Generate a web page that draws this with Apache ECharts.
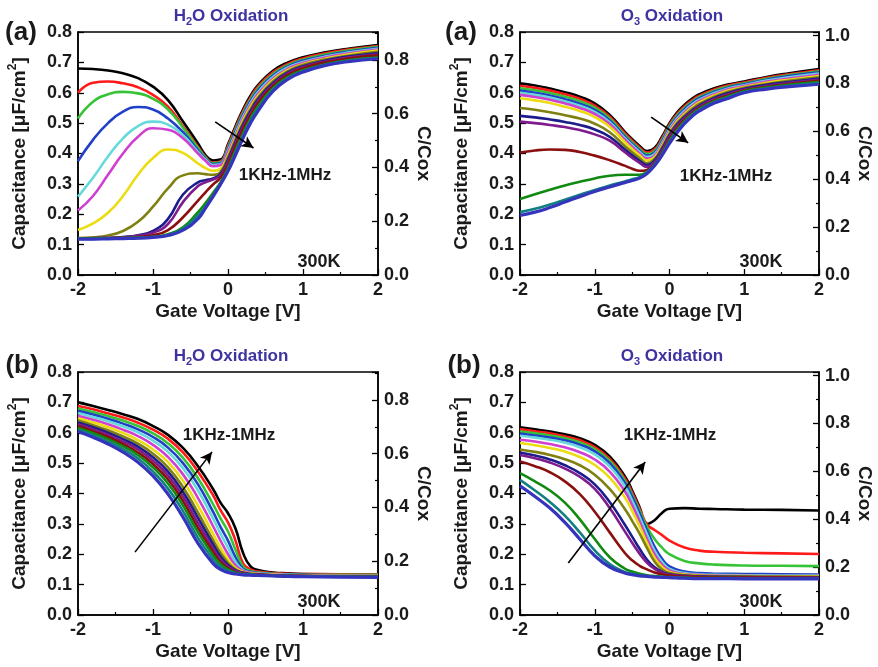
<!DOCTYPE html>
<html><head><meta charset="utf-8">
<script src="https://cdn.jsdelivr.net/npm/echarts@6/dist/echarts.min.js"></script>
<style>html,body{margin:0;padding:0;background:#fff}#c{width:878px;height:667px}</style>
</head><body><div id="c"></div>
<script>
const FONT = '"Liberation Sans", Arial, sans-serif';
// Frequency order 1KHz ... 1MHz (Origin default colour sequence)
const COLORS = ['#000000','#ff1a1a','#36c436','#2040c8','#66dada','#d040d0','#ecdc12','#808012','#1c1c8c','#7e1c8e','#8a1010','#108a10','#118080','#3434bc'];

// ---------- (a) H2O oxidation ----------
const X_A_H2O = [-2,-1.8,-1.6,-1.4,-1.2,-1,-0.8,-0.6,-0.4,-0.3,-0.2,-0.1,0,0.1,0.2,0.3,0.4,0.6,0.8,1,1.3,1.6,2];
const C_A_H2O = [
 [0.680,0.678,0.673,0.664,0.648,0.620,0.576,0.505,0.433,0.395,0.377,0.380,0.430,0.490,0.545,0.590,0.625,0.672,0.700,0.717,0.733,0.745,0.757],
 [0.600,0.633,0.637,0.631,0.618,0.593,0.554,0.490,0.422,0.389,0.370,0.374,0.425,0.484,0.539,0.584,0.620,0.667,0.695,0.713,0.730,0.742,0.754],
 [0.515,0.570,0.595,0.603,0.598,0.580,0.545,0.485,0.418,0.387,0.368,0.371,0.420,0.478,0.533,0.578,0.614,0.662,0.691,0.709,0.726,0.739,0.751],
 [0.375,0.445,0.500,0.538,0.553,0.545,0.515,0.470,0.410,0.383,0.365,0.368,0.415,0.472,0.527,0.572,0.608,0.657,0.687,0.705,0.722,0.735,0.748],
 [0.258,0.320,0.390,0.450,0.490,0.505,0.495,0.460,0.405,0.380,0.362,0.365,0.410,0.466,0.521,0.566,0.602,0.652,0.683,0.701,0.719,0.732,0.745],
 [0.212,0.260,0.330,0.400,0.455,0.483,0.478,0.450,0.400,0.376,0.358,0.362,0.405,0.460,0.515,0.560,0.596,0.647,0.679,0.698,0.716,0.729,0.742],
 [0.148,0.170,0.205,0.260,0.330,0.385,0.413,0.402,0.367,0.352,0.343,0.350,0.395,0.453,0.508,0.553,0.590,0.642,0.675,0.694,0.712,0.726,0.739],
 [0.122,0.124,0.130,0.145,0.175,0.225,0.285,0.328,0.335,0.332,0.330,0.340,0.388,0.446,0.501,0.546,0.584,0.637,0.671,0.691,0.709,0.722,0.735],
 [0.120,0.121,0.122,0.125,0.131,0.145,0.185,0.265,0.305,0.312,0.318,0.333,0.380,0.439,0.494,0.539,0.578,0.632,0.667,0.687,0.706,0.719,0.731],
 [0.120,0.121,0.122,0.124,0.129,0.139,0.168,0.240,0.293,0.305,0.314,0.328,0.373,0.432,0.487,0.532,0.572,0.627,0.663,0.684,0.703,0.716,0.727],
 [0.120,0.120,0.121,0.122,0.125,0.131,0.148,0.190,0.245,0.272,0.298,0.320,0.363,0.425,0.480,0.525,0.566,0.622,0.659,0.681,0.700,0.713,0.723],
 [0.120,0.120,0.121,0.122,0.123,0.126,0.134,0.157,0.207,0.237,0.270,0.305,0.352,0.410,0.465,0.515,0.555,0.615,0.652,0.674,0.694,0.707,0.716],
 [0.119,0.119,0.120,0.121,0.122,0.125,0.132,0.152,0.196,0.226,0.263,0.301,0.346,0.402,0.457,0.507,0.547,0.610,0.648,0.671,0.692,0.705,0.714],
 [0.118,0.118,0.119,0.120,0.121,0.124,0.130,0.148,0.185,0.220,0.258,0.298,0.342,0.395,0.450,0.500,0.540,0.605,0.645,0.668,0.690,0.702,0.712]
];

// ---------- (a) O3 oxidation ----------
const X_A_O3 = [-2,-1.8,-1.6,-1.4,-1.2,-1,-0.8,-0.6,-0.5,-0.4,-0.3,-0.2,-0.1,0,0.1,0.2,0.3,0.4,0.6,0.8,1,1.3,1.6,2];
const C_A_O3 = [
 [0.631,0.624,0.614,0.602,0.587,0.565,0.527,0.472,0.447,0.425,0.408,0.418,0.455,0.500,0.535,0.560,0.580,0.595,0.615,0.628,0.637,0.652,0.664,0.678],
 [0.623,0.616,0.607,0.595,0.580,0.558,0.521,0.467,0.442,0.420,0.403,0.413,0.450,0.495,0.530,0.555,0.575,0.590,0.611,0.625,0.634,0.649,0.661,0.674],
 [0.615,0.608,0.599,0.587,0.572,0.551,0.515,0.461,0.437,0.415,0.398,0.408,0.445,0.490,0.525,0.550,0.570,0.586,0.607,0.621,0.631,0.646,0.658,0.671],
 [0.607,0.600,0.591,0.579,0.564,0.544,0.509,0.456,0.432,0.410,0.393,0.403,0.440,0.485,0.520,0.545,0.566,0.582,0.603,0.618,0.628,0.643,0.655,0.667],
 [0.600,0.593,0.584,0.572,0.557,0.537,0.503,0.451,0.427,0.405,0.388,0.398,0.435,0.480,0.515,0.540,0.561,0.577,0.599,0.615,0.625,0.640,0.651,0.663],
 [0.593,0.586,0.577,0.565,0.550,0.530,0.497,0.446,0.422,0.400,0.383,0.393,0.430,0.475,0.510,0.535,0.556,0.573,0.595,0.612,0.622,0.637,0.647,0.659],
 [0.582,0.575,0.566,0.554,0.540,0.520,0.488,0.438,0.415,0.394,0.377,0.388,0.425,0.470,0.505,0.530,0.551,0.568,0.591,0.608,0.619,0.633,0.643,0.655],
 [0.550,0.544,0.536,0.526,0.515,0.498,0.470,0.425,0.404,0.384,0.368,0.382,0.420,0.465,0.500,0.525,0.546,0.563,0.587,0.604,0.616,0.629,0.639,0.651],
 [0.524,0.519,0.512,0.504,0.494,0.479,0.455,0.414,0.394,0.376,0.362,0.377,0.415,0.460,0.495,0.520,0.541,0.558,0.583,0.600,0.613,0.626,0.635,0.647],
 [0.505,0.500,0.494,0.487,0.477,0.463,0.442,0.405,0.386,0.369,0.356,0.372,0.410,0.455,0.490,0.515,0.536,0.554,0.579,0.596,0.610,0.622,0.632,0.643],
 [0.403,0.410,0.413,0.412,0.405,0.393,0.378,0.360,0.350,0.343,0.346,0.366,0.402,0.447,0.483,0.510,0.532,0.550,0.575,0.592,0.607,0.619,0.629,0.639],
 [0.250,0.266,0.281,0.295,0.307,0.318,0.327,0.330,0.330,0.330,0.340,0.364,0.399,0.442,0.478,0.506,0.529,0.547,0.572,0.589,0.605,0.617,0.626,0.635],
 [0.207,0.218,0.232,0.248,0.264,0.280,0.295,0.308,0.315,0.322,0.338,0.363,0.397,0.438,0.473,0.502,0.526,0.544,0.569,0.586,0.602,0.614,0.623,0.631],
 [0.196,0.207,0.222,0.240,0.258,0.275,0.290,0.304,0.311,0.319,0.334,0.360,0.394,0.433,0.468,0.498,0.522,0.540,0.566,0.583,0.600,0.612,0.620,0.628]
];

// ---------- (b) H2O oxidation ----------
const X_B_H2O = [-2,-1.8,-1.6,-1.4,-1.2,-1,-0.8,-0.6,-0.4,-0.2,-0.1,0,0.1,0.2,0.3,0.4,0.6,0.8,1,1.5,2];
const C_B_H2O = [
 [0.700,0.688,0.675,0.661,0.645,0.622,0.593,0.550,0.490,0.415,0.370,0.335,0.285,0.205,0.160,0.148,0.140,0.137,0.135,0.134,0.134],
 [0.688,0.677,0.664,0.650,0.633,0.610,0.580,0.535,0.472,0.395,0.345,0.305,0.245,0.170,0.150,0.143,0.138,0.136,0.135,0.134,0.133],
 [0.680,0.668,0.655,0.640,0.622,0.598,0.565,0.517,0.450,0.365,0.318,0.275,0.215,0.160,0.145,0.140,0.136,0.134,0.133,0.132,0.132],
 [0.672,0.660,0.646,0.630,0.611,0.586,0.551,0.500,0.430,0.340,0.290,0.245,0.190,0.152,0.142,0.138,0.135,0.133,0.132,0.131,0.131],
 [0.665,0.652,0.638,0.621,0.601,0.574,0.537,0.483,0.410,0.318,0.268,0.222,0.175,0.148,0.140,0.137,0.134,0.132,0.131,0.130,0.130],
 [0.656,0.643,0.628,0.610,0.589,0.560,0.520,0.463,0.385,0.293,0.245,0.200,0.163,0.145,0.139,0.136,0.133,0.131,0.130,0.129,0.129],
 [0.648,0.634,0.618,0.599,0.576,0.545,0.503,0.442,0.360,0.268,0.222,0.183,0.155,0.142,0.137,0.135,0.132,0.130,0.129,0.128,0.128],
 [0.640,0.625,0.608,0.588,0.564,0.531,0.486,0.421,0.337,0.247,0.205,0.172,0.150,0.140,0.136,0.134,0.131,0.130,0.129,0.128,0.128],
 [0.634,0.618,0.600,0.579,0.554,0.519,0.472,0.405,0.320,0.233,0.193,0.165,0.147,0.139,0.135,0.133,0.131,0.129,0.128,0.127,0.127],
 [0.628,0.612,0.593,0.571,0.545,0.508,0.459,0.390,0.303,0.220,0.183,0.159,0.144,0.138,0.134,0.133,0.130,0.129,0.128,0.127,0.127],
 [0.622,0.605,0.586,0.563,0.535,0.497,0.446,0.375,0.287,0.208,0.174,0.154,0.141,0.136,0.133,0.132,0.130,0.128,0.128,0.127,0.127],
 [0.616,0.599,0.579,0.555,0.526,0.486,0.433,0.360,0.272,0.197,0.167,0.150,0.139,0.135,0.133,0.131,0.129,0.128,0.127,0.126,0.126],
 [0.610,0.592,0.571,0.546,0.515,0.472,0.416,0.342,0.254,0.184,0.158,0.145,0.137,0.134,0.132,0.131,0.129,0.128,0.127,0.126,0.125],
 [0.604,0.585,0.563,0.536,0.503,0.458,0.398,0.322,0.236,0.170,0.150,0.140,0.135,0.132,0.131,0.130,0.129,0.127,0.126,0.125,0.124]
];

// ---------- (b) O3 oxidation ----------
const X_B_O3 = [-2,-1.8,-1.6,-1.4,-1.2,-1,-0.8,-0.6,-0.5,-0.4,-0.3,-0.2,-0.1,0,0.2,0.4,0.6,1,1.5,2];
const C_B_O3 = [
 [0.618,0.611,0.604,0.595,0.582,0.560,0.522,0.458,0.410,0.355,0.300,0.312,0.336,0.350,0.352,0.350,0.349,0.347,0.346,0.344],
 [0.612,0.605,0.598,0.588,0.575,0.553,0.514,0.450,0.403,0.350,0.298,0.280,0.263,0.245,0.222,0.212,0.208,0.205,0.203,0.201],
 [0.604,0.598,0.591,0.582,0.568,0.546,0.507,0.443,0.396,0.343,0.290,0.250,0.222,0.200,0.178,0.170,0.166,0.163,0.162,0.161],
 [0.597,0.591,0.584,0.575,0.561,0.539,0.500,0.436,0.389,0.335,0.278,0.225,0.185,0.160,0.143,0.138,0.136,0.135,0.134,0.133],
 [0.590,0.584,0.577,0.567,0.552,0.529,0.489,0.425,0.377,0.322,0.265,0.212,0.175,0.152,0.138,0.134,0.132,0.131,0.130,0.130],
 [0.577,0.571,0.563,0.552,0.536,0.512,0.472,0.408,0.362,0.308,0.250,0.200,0.166,0.147,0.135,0.132,0.130,0.129,0.128,0.128],
 [0.566,0.559,0.550,0.538,0.520,0.494,0.452,0.388,0.343,0.292,0.236,0.188,0.158,0.142,0.133,0.130,0.129,0.128,0.127,0.127],
 [0.545,0.537,0.527,0.513,0.493,0.462,0.415,0.350,0.310,0.268,0.220,0.176,0.150,0.138,0.131,0.129,0.128,0.127,0.126,0.126],
 [0.535,0.525,0.512,0.493,0.467,0.430,0.372,0.298,0.258,0.218,0.182,0.157,0.142,0.134,0.129,0.127,0.126,0.125,0.125,0.124],
 [0.527,0.516,0.502,0.482,0.455,0.415,0.352,0.276,0.238,0.202,0.172,0.152,0.139,0.132,0.128,0.126,0.125,0.124,0.124,0.123],
 [0.505,0.490,0.470,0.440,0.398,0.340,0.272,0.205,0.180,0.162,0.150,0.140,0.134,0.130,0.127,0.125,0.124,0.123,0.123,0.122],
 [0.467,0.440,0.410,0.370,0.315,0.250,0.190,0.153,0.143,0.136,0.131,0.128,0.126,0.125,0.123,0.122,0.122,0.121,0.121,0.121],
 [0.445,0.410,0.372,0.327,0.272,0.213,0.168,0.142,0.136,0.131,0.128,0.126,0.125,0.124,0.122,0.121,0.121,0.120,0.120,0.120],
 [0.425,0.390,0.352,0.305,0.250,0.195,0.158,0.138,0.133,0.129,0.127,0.125,0.124,0.123,0.121,0.120,0.120,0.119,0.119,0.119]
];

// Annotation arrows (start, end) in data coordinates
const ARROW_A_H2O = [[-0.17,0.504],[0.34,0.418]];
const ARROW_A_O3  = [[-0.245,0.52],[0.25,0.435]];
const ARROW_B_H2O = [[-1.24,0.207],[-0.213,0.537]];
const ARROW_B_O3  = [[-1.354,0.171],[-0.325,0.504]];

const RIGHT_MAX_H2O = 0.904;  // C/Cox scale
const RIGHT_MAX_O3 = 1.015;

const GRIDS = [
  {left:78, top:32, width:300, height:243},
  {left:520, top:32, width:299, height:243},
  {left:78, top:372, width:300, height:243},
  {left:520, top:372, width:299, height:243}
];
const PANELS = [
  {X:X_A_H2O, C:C_A_H2O, arrow:ARROW_A_H2O, rmax:RIGHT_MAX_H2O},
  {X:X_A_O3,  C:C_A_O3,  arrow:ARROW_A_O3,  rmax:RIGHT_MAX_O3},
  {X:X_B_H2O, C:C_B_H2O, arrow:ARROW_B_H2O, rmax:RIGHT_MAX_H2O},
  {X:X_B_O3,  C:C_B_O3,  arrow:ARROW_B_O3,  rmax:RIGHT_MAX_O3}
];

const TXT = '#1a1a1a';
const tickStyle = {show:true, inside:true, length:6, lineStyle:{color:'#000', width:1.3}};
const minorStyle = {show:true, splitNumber:2, length:3, lineStyle:{color:'#000', width:1.2}};
const xAxes = [], yAxes = [], series = [];
GRIDS.forEach((g, gi) => {
  xAxes.push({
    type:'value', gridIndex:gi, min:-2, max:2, interval:1,
    name:'Gate Voltage [V]', nameLocation:'middle', nameGap:27,
    nameTextStyle:{fontFamily:FONT, fontWeight:'bold', fontSize:19, color:TXT},
    axisLine:{show:true, onZero:false, lineStyle:{color:'#000', width:1.5}},
    axisTick:tickStyle, minorTick:minorStyle, splitLine:{show:false}, minorSplitLine:{show:false},
    axisLabel:{fontFamily:FONT, fontWeight:'bold', fontSize:18, color:TXT, margin:6}
  });
  yAxes.push({
    type:'value', gridIndex:gi, min:0, max:0.8, interval:0.1, position:'left',
    name:'Capacitance [μF/cm{sup|2}]', nameLocation:'middle', nameGap:45,
    nameTextStyle:{fontFamily:FONT, fontWeight:'bold', fontSize:19, color:TXT, lineHeight:26,
      rich:{sup:{fontFamily:FONT, fontWeight:'bold', fontSize:12, color:TXT, verticalAlign:'top', lineHeight:12}}},
    axisLine:{show:true, onZero:false, lineStyle:{color:'#000', width:1.5}},
    axisTick:tickStyle, splitLine:{show:false},
    axisLabel:{fontFamily:FONT, fontWeight:'bold', fontSize:18, color:TXT, margin:6, formatter:v=>v.toFixed(1)}
  });
  const rm = PANELS[gi].rmax;
  yAxes.push({
    type:'value', gridIndex:gi, min:0, max:rm, interval:0.2, position:'right',
    name:'C/Cox', nameLocation:'middle', nameGap:36, nameRotate:-90,
    nameTextStyle:{fontFamily:FONT, fontWeight:'bold', fontSize:19, color:TXT, padding:[0,0,0,0]},
    axisLine:{show:true, onZero:false, lineStyle:{color:'#000', width:1.5}},
    axisTick:tickStyle, minorTick:minorStyle, splitLine:{show:false}, minorSplitLine:{show:false},
    axisLabel:{fontFamily:FONT, fontWeight:'bold', fontSize:18, color:TXT, margin:6,
      formatter:v=> (Math.abs(v*5 - Math.round(v*5)) < 1e-6 ? v.toFixed(1) : '')}
  });
  const P = PANELS[gi];
  P.C.forEach((curve, ci) => {
    const s = {
      type:'line', xAxisIndex:gi, yAxisIndex:gi*2,
      data: P.X.map((x, j) => [x, curve[j]]),
      showSymbol:false, smooth:0.5, silent:true,
      lineStyle:{color:COLORS[ci], width: ci === 13 ? 3.2 : 2.6},
      z: 2 + ci
    };
    if (ci === 0) {
      s.markLine = {
        silent:true, symbol:['none','arrow'], symbolSize:[9,12], animation:false,
        lineStyle:{color:'#000', width:1.6, type:'solid'}, label:{show:false},
        data:[[{coord:P.arrow[0]},{coord:P.arrow[1]}]], z:30
      };
    }
    series.push(s);
  });
});

function txt(text, x, y, size, color) {
  return {type:'text', x:x, y:y, z:100, silent:true,
    style:{text:text, fill:color||TXT, font:'bold '+size+'px '+FONT, align:'center', verticalAlign:'middle'}};
}
const TITLE_COLOR = '#3e33a0';
const subRich = {sub:{fontFamily:FONT, fontWeight:'bold', fontSize:11, fill:TITLE_COLOR, verticalAlign:'bottom', lineHeight:11}};
function title(text, x, y) {
  return {type:'text', x:x, y:y, z:100, silent:true,
    style:{text:text, fill:TITLE_COLOR, font:'bold 17px '+FONT, align:'center', verticalAlign:'middle', lineHeight:22, rich:subRich}};
}
const graphic = [
  title('H{sub|2}O Oxidation', 231, 16), title('O{sub|3} Oxidation', 672, 16),
  title('H{sub|2}O Oxidation', 231, 356), title('O{sub|3} Oxidation', 672, 356),
  txt('(a)', 21, 33, 26), txt('(a)', 461, 33, 26), txt('(b)', 22, 366, 26), txt('(b)', 464, 366, 26),
  txt('300K', 319, 262, 18), txt('300K', 761, 262, 18), txt('300K', 319, 602, 18), txt('300K', 761, 602, 18),
  txt('1KHz-1MHz', 285, 175, 17), txt('1KHz-1MHz', 726, 176, 17), txt('1KHz-1MHz', 229, 435, 17), txt('1KHz-1MHz', 670, 435, 17)
];

const chart = echarts.init(document.getElementById('c'), null, {renderer:'canvas'});
chart.setOption({
  animation:false, backgroundColor:'#fff',
  grid: GRIDS.map(g => Object.assign({show:true, borderColor:'#000', borderWidth:1.5, backgroundColor:'transparent'}, g)),
  xAxis: xAxes, yAxis: yAxes, series: series, graphic: graphic
});
</script></body></html>
